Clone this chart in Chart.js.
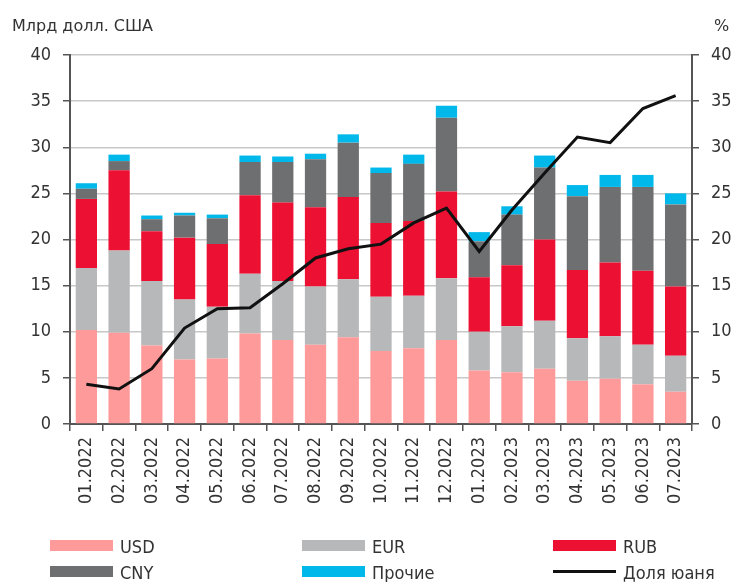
<!DOCTYPE html>
<html>
<head>
<meta charset="utf-8">
<script src="https://cdn.jsdelivr.net/npm/chart.js@4.4.1/dist/chart.umd.min.js"></script>
<style>
    html, body { margin: 0; padding: 0; background: #fff; }
    #wrap { position: relative; width: 733px; height: 582px; overflow: hidden; }
    #chart { position: absolute; left: 0; top: 0; }
    .axis-title { position: absolute; top: 18px; font: 16px 'DejaVu Sans', sans-serif; line-height: 16px; color: #333; white-space: nowrap; }
    .lg-item { position: absolute; font: 18px 'DejaVu Sans Condensed', 'Liberation Sans Narrow', sans-serif; line-height: 18px; color: #333; white-space: nowrap; }
    .lg-swatch { position: absolute; left: 0; width: 63px; }
    .lg-text { position: absolute; }
</style>
</head>
<body>
<div id="wrap">
    <canvas id="chart" width="733" height="582"></canvas>
    <div class="axis-title" style="left:12px;">Млрд долл. США</div>
    <div class="axis-title" style="left:714px;">%</div>
    <div id="legend"></div>
</div>
<script>
// --- Data ---
const months = ['01.2022', '02.2022', '03.2022', '04.2022', '05.2022', '06.2022', '07.2022',
    '08.2022', '09.2022', '10.2022', '11.2022', '12.2022', '01.2023', '02.2023', '03.2023',
    '04.2023', '05.2023', '06.2023', '07.2023'];

const usd = [10.2, 9.9, 8.5, 7.0, 7.1, 9.8, 9.1, 8.6, 9.4, 7.9, 8.2, 9.1, 5.8, 5.6, 6.0, 4.7, 4.9, 4.3, 3.5];
const eur = [6.7, 8.9, 7.0, 6.5, 5.6, 6.5, 6.4, 6.3, 6.3, 5.9, 5.7, 6.7, 4.2, 5.0, 5.2, 4.6, 4.6, 4.3, 3.9];
const rub = [7.5, 8.7, 5.4, 6.7, 6.8, 8.5, 8.5, 8.6, 8.9, 8.0, 8.1, 9.4, 5.9, 6.6, 8.8, 7.4, 8.0, 8.0, 7.5];
const cny = [1.1, 1.0, 1.3, 2.4, 2.8, 3.6, 4.4, 5.2, 5.9, 5.4, 6.2, 8.0, 3.9, 5.5, 7.8, 8.0, 8.2, 9.1, 8.9];
const other = [0.6, 0.7, 0.4, 0.3, 0.4, 0.7, 0.6, 0.6, 0.9, 0.6, 1.0, 1.3, 1.0, 0.9, 1.3, 1.2, 1.3, 1.3, 1.2];
const cnyShare = [4.3, 3.8, 6.0, 10.4, 12.5, 12.6, 15.2, 18.0, 19.0, 19.5, 21.8, 23.4, 18.7, 23.2, 27.2, 31.1, 30.5, 34.2, 35.6];

const axisTicks = { min: 0, max: 40, step: 5 };

const FONT = "'DejaVu Sans Condensed', 'DejaVu Sans', sans-serif";
const AXIS_COLOR = '#555';

function barSet(label, data, color) {
    return {
        type: 'bar',
        label,
        data,
        backgroundColor: color,
        borderWidth: 0,
        barPercentage: 0.65,
        categoryPercentage: 1.0,
        stack: 'total',
        yAxisID: 'y',
        order: 1
    };
}

const datasets = [
    barSet('USD', usd, '#FF9A9A'),
    barSet('EUR', eur, '#B7B8BA'),
    barSet('RUB', rub, '#EC1032'),
    barSet('CNY', cny, '#6E6F71'),
    barSet('Прочие', other, '#00B8EA'),
    {
        type: 'line',
        label: 'Доля юаня',
        data: cnyShare,
        borderColor: '#111',
        borderWidth: 3,
        pointRadius: 0,
        tension: 0,
        yAxisID: 'y2',
        order: 0
    }
];

const valueTicks = {
    stepSize: axisTicks.step,
    color: '#333',
    font: { family: FONT, size: 18 },
    padding: 12
};

new Chart(document.getElementById('chart').getContext('2d'), {
    data: { labels: months, datasets },
    options: {
        responsive: false,
        animation: false,
        devicePixelRatio: 1,
        layout: { padding: { top: 55, left: 0, right: 0, bottom: 0 } },
        plugins: { legend: { display: false }, tooltip: { enabled: false } },
        scales: {
            x: {
                stacked: true,
                ticks: {
                    minRotation: 90,
                    maxRotation: 90,
                    autoSkip: false,
                    padding: 6,
                    color: '#333',
                    font: { family: FONT, size: 18 }
                },
                grid: { drawOnChartArea: false, offset: true, tickLength: 7, tickColor: AXIS_COLOR, lineWidth: 1.5 },
                border: { color: AXIS_COLOR, width: 2 },
                afterFit: (s) => { s.height = 158; }
            },
            y: {
                position: 'left',
                stacked: true,
                min: axisTicks.min,
                max: axisTicks.max,
                ticks: valueTicks,
                grid: { color: '#C8C8C8', lineWidth: 1.5, tickLength: 7, tickColor: AXIS_COLOR },
                border: { color: AXIS_COLOR, width: 2 },
                afterFit: (s) => { s.width = 70; }
            },
            y2: {
                position: 'right',
                min: axisTicks.min,
                max: axisTicks.max,
                ticks: valueTicks,
                grid: { drawOnChartArea: false, tickLength: 7, tickColor: AXIS_COLOR, lineWidth: 1.5 },
                border: { color: AXIS_COLOR, width: 2 },
                afterFit: (s) => { s.width = 41; }
            }
        }
    }
});

// --- HTML legend, 3 columns x 2 rows ---
const legendCols = [50, 302, 553];
const legendRows = [538, 564];
const legendEl = document.getElementById('legend');
datasets.forEach((ds, i) => {
    const col = i % 3, row = Math.floor(i / 3);
    const item = document.createElement('div');
    item.className = 'lg-item';
    item.style.left = legendCols[col] + 'px';
    item.style.top = legendRows[row] + 'px';
    const sw = document.createElement('div');
    sw.className = 'lg-swatch';
    if (ds.type === 'line') {
        sw.style.top = '6px';
        sw.style.height = '3px';
        sw.style.background = ds.borderColor;
    } else {
        sw.style.top = '2px';
        sw.style.height = '11px';
        sw.style.background = ds.backgroundColor;
    }
    const tx = document.createElement('div');
    tx.className = 'lg-text';
    tx.style.left = '70px';
    tx.style.top = '0px';
    tx.textContent = ds.label;
    item.appendChild(sw);
    item.appendChild(tx);
    legendEl.appendChild(item);
});
</script>
</body>
</html>
